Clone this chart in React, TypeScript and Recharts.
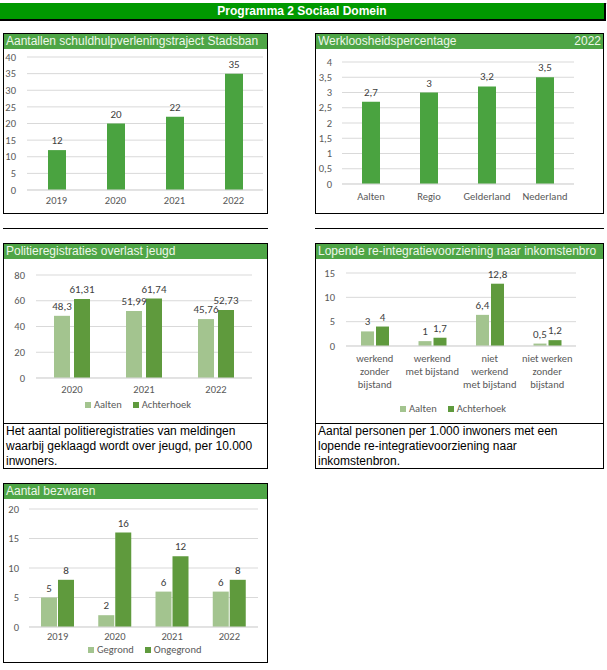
import React from 'react';
import { BarChart, Bar, XAxis, YAxis, CartesianGrid, LabelList } from 'recharts';

// schuldhulpverlening
const trajectYears = ['2019', '2020', '2021', '2022'];
const trajectCounts = [12, 20, 22, 35];
const trajectTicks = [0, 5, 10, 15, 20, 25, 30, 35, 40];

// werkloosheid 2022
const regions = ['Aalten', 'Regio', 'Gelderland', 'Nederland'];
const unemployment = [2.7, 3, 3.2, 3.5];
const unemploymentTicks = [0, 0.5, 1, 1.5, 2, 2.5, 3, 3.5, 4];

// politieregistraties overlast jeugd
const policeYears = ['2020', '2021', '2022'];
const policeAalten = [48.3, 51.99, 45.76];
const policeAchterhoek = [61.31, 61.74, 52.73];
const policeTicks = [0, 20, 40, 60, 80];

// re-integratievoorziening
const reintegrationGroups = [
  'werkend\nzonder\nbijstand',
  'werkend\nmet bijstand',
  'niet\nwerkend\nmet bijstand',
  'niet werken\nzonder\nbijstand',
];
const reintegrationAalten = [3, 1, 6.4, 0.5];
const reintegrationAchterhoek = [4, 1.7, 12.8, 1.2];
const reintegrationTicks = [0, 5, 10, 15];

// bezwaren
const objectionYears = ['2019', '2020', '2021', '2022'];
const objectionsGrounded = [5, 2, 6, 6];
const objectionsUngrounded = [8, 16, 12, 8];
const objectionTicks = [0, 5, 10, 15, 20];

const chartFont = "Carlito, Lato, 'Open Sans', sans-serif";
const boxFont = "'Liberation Sans', Arial, sans-serif";
const barGreen = '#4aa340';
const lightGreen = '#a3c48f';
const darkGreen = '#5f9a3d';
const titleGreen = '#4ea546';
const gridColor = '#d9d9d9';
const tickColor = '#595959';
const labelColor = '#404040';

const comma = (v: any) => String(v).replace('.', ',');

const tickStyle = { fill: tickColor, fontSize: 10.5, fontFamily: chartFont };

const MultiLineTick = (props: any) => {
  const { x, y, payload } = props;
  const lines = String(payload.value).split('\n');
  return (
    <text x={x} y={y} textAnchor="middle" fill={tickColor} fontSize={10.5} fontFamily={chartFont}>
      {lines.map((line, i) => (
        <tspan key={i} x={x} dy={i === 0 ? '0.71em' : 13}>
          {line}
        </tspan>
      ))}
    </text>
  );
};

function Box({ left, top, width, height, children }: any) {
  return (
    <div
      style={{
        position: 'absolute',
        left,
        top,
        width,
        height,
        border: '1px solid #000',
        boxSizing: 'border-box',
        overflow: 'hidden',
        background: '#fff',
      }}
    >
      {children}
    </div>
  );
}

function TitleBar({ text, right }: { text: string; right?: string }) {
  return (
    <div
      style={{
        height: 15,
        background: titleGreen,
        color: '#eef7ea',
        fontFamily: boxFont,
        fontSize: 12,
        lineHeight: '15px',
        paddingLeft: 2,
        paddingRight: 2,
        whiteSpace: 'nowrap',
        display: 'flex',
        justifyContent: 'space-between',
      }}
    >
      <span>{text}</span>
      {right && <span>{right}</span>}
    </div>
  );
}

function LegendRow({ left, top, items }: { left: number; top: number; items: { name: string; color: string }[] }) {
  return (
    <div
      style={{
        position: 'absolute',
        left,
        top,
        display: 'flex',
        alignItems: 'center',
        fontFamily: chartFont,
        fontSize: 10.5,
        color: tickColor,
        whiteSpace: 'nowrap',
      }}
    >
      {items.map((it) => (
        <div key={it.name} style={{ display: 'flex', alignItems: 'center', marginRight: 11 }}>
          <span style={{ width: 6, height: 6, background: it.color, marginRight: 3, display: 'inline-block' }} />
          <span>{it.name}</span>
        </div>
      ))}
    </div>
  );
}

function Separator({ left, width }: { left: number; width: number }) {
  return <div style={{ position: 'absolute', left, top: 228, width, height: 1, background: '#000' }} />;
}

export default function App() {
  const trajectData = trajectYears.map((year, i) => ({ year, value: trajectCounts[i] }));
  const unemploymentData = regions.map((region, i) => ({ region, value: unemployment[i] }));
  const policeData = policeYears.map((year, i) => ({
    year,
    Aalten: policeAalten[i],
    Achterhoek: policeAchterhoek[i],
  }));
  const reintegrationData = reintegrationGroups.map((group, i) => ({
    group,
    Aalten: reintegrationAalten[i],
    Achterhoek: reintegrationAchterhoek[i],
  }));
  const objectionData = objectionYears.map((year, i) => ({
    year,
    Gegrond: objectionsGrounded[i],
    Ongegrond: objectionsUngrounded[i],
  }));

  const label = { position: 'top' as const, offset: 6, fill: labelColor, fontSize: 11, fontFamily: chartFont };

  return (
    <div style={{ position: 'absolute', left: 0, top: 0, width: 607, height: 670, background: '#fff' }}>
      <div style={{ position: 'absolute', left: 0, top: 0, width: 607, height: 3, borderBottom: '1px solid #d4d4d4' }} />
      <div
        style={{
          position: 'absolute',
          left: 0,
          top: 3,
          width: 606,
          height: 18,
          background: '#009900',
          borderBottom: '2px solid #000',
          borderRight: '2px solid #000',
          boxSizing: 'border-box',
          color: '#fff',
          fontFamily: boxFont,
          fontWeight: 'bold',
          fontSize: 12,
          lineHeight: '16px',
          textAlign: 'center',
        }}
      >
        Programma 2 Sociaal Domein
      </div>

      {/* schuldhulpverlening */}
      <Box left={3} top={33} width={265} height={181}>
        <TitleBar text="Aantallen schuldhulpverleningstraject Stadsban" />
        <BarChart width={263} height={164} data={trajectData} margin={{ top: 8, right: 4, left: 0, bottom: 0 }}>
          <CartesianGrid vertical={false} stroke={gridColor} />
          <XAxis dataKey="year" axisLine={{ stroke: gridColor }} tickLine={false} tickSize={0} tickMargin={7} height={23} tick={tickStyle} />
          <YAxis width={23} domain={[0, 40]} ticks={trajectTicks} interval={0} axisLine={false} tickLine={false} tickSize={0} tickMargin={11} tick={tickStyle} />
          <Bar dataKey="value" fill={barGreen} barSize={18} isAnimationActive={false}>
            <LabelList dataKey="value" {...label} />
          </Bar>
        </BarChart>
      </Box>

      {/* werkloosheid */}
      <Box left={315} top={33} width={289} height={181}>
        <TitleBar text="Werkloosheidspercentage" right="2022" />
        <BarChart width={287} height={164} data={unemploymentData} margin={{ top: 13, right: 29, left: 0, bottom: 0 }}>
          <CartesianGrid vertical={false} stroke={gridColor} />
          <XAxis dataKey="region" axisLine={{ stroke: gridColor }} tickLine={false} tickSize={0} tickMargin={9} height={29} tick={tickStyle} />
          <YAxis width={26} domain={[0, 4]} ticks={unemploymentTicks} interval={0} tickFormatter={comma} axisLine={false} tickLine={false} tickSize={0} tickMargin={10} tick={tickStyle} />
          <Bar dataKey="value" fill={barGreen} barSize={18} isAnimationActive={false}>
            <LabelList dataKey="value" formatter={comma} {...label} />
          </Bar>
        </BarChart>
      </Box>

      <Separator left={3} width={265} />
      <Separator left={315} width={289} />

      {/* politieregistraties */}
      <Box left={3} top={243} width={265} height={181}>
        <TitleBar text="Politieregistraties overlast jeugd" />
        <BarChart width={263} height={164} data={policeData} barGap={4} margin={{ top: 16, right: 15, left: 0, bottom: 0 }}>
          <CartesianGrid vertical={false} stroke={gridColor} />
          <XAxis dataKey="year" axisLine={{ stroke: gridColor }} tickLine={false} tickSize={0} tickMargin={8} height={45} tick={tickStyle} />
          <YAxis width={32} domain={[0, 80]} ticks={policeTicks} interval={0} axisLine={false} tickLine={false} tickSize={0} tickMargin={11} tick={tickStyle} />
          <Bar dataKey="Aalten" fill={lightGreen} barSize={16} isAnimationActive={false}>
            <LabelList dataKey="Aalten" formatter={comma} {...label} />
          </Bar>
          <Bar dataKey="Achterhoek" fill={darkGreen} barSize={16} isAnimationActive={false}>
            <LabelList dataKey="Achterhoek" formatter={comma} {...label} />
          </Bar>
        </BarChart>
      </Box>
      <LegendRow
        left={85}
        top={398}
        items={[
          { name: 'Aalten', color: lightGreen },
          { name: 'Achterhoek', color: darkGreen },
        ]}
      />
      <Box left={3} top={423} width={265} height={46}>
        <div style={{ fontFamily: boxFont, fontSize: 12, lineHeight: '15px', color: '#000', padding: '0 2px' }}>
          Het aantal politieregistraties van meldingen
          <br />
          waarbij geklaagd wordt over jeugd, per 10.000
          <br />
          inwoners.
        </div>
      </Box>

      {/* re-integratie */}
      <Box left={315} top={243} width={289} height={181}>
        <TitleBar text="Lopende re-integratievoorziening naar inkomstenbro" />
        <BarChart width={287} height={164} data={reintegrationData} barGap={2} margin={{ top: 14, right: 27, left: 0, bottom: 0 }}>
          <CartesianGrid vertical={false} stroke={gridColor} />
          <XAxis dataKey="group" axisLine={{ stroke: gridColor }} tickLine={false} tickSize={0} tickMargin={9} height={77} interval={0} tick={<MultiLineTick />} />
          <YAxis width={30} domain={[0, 15]} ticks={reintegrationTicks} interval={0} axisLine={false} tickLine={false} tickSize={0} tickMargin={11} tick={tickStyle} />
          <Bar dataKey="Aalten" fill={lightGreen} barSize={13} isAnimationActive={false}>
            <LabelList dataKey="Aalten" formatter={comma} {...label} />
          </Bar>
          <Bar dataKey="Achterhoek" fill={darkGreen} barSize={13} isAnimationActive={false}>
            <LabelList dataKey="Achterhoek" formatter={comma} {...label} />
          </Bar>
        </BarChart>
      </Box>
      <LegendRow
        left={400}
        top={402}
        items={[
          { name: 'Aalten', color: lightGreen },
          { name: 'Achterhoek', color: darkGreen },
        ]}
      />
      <Box left={315} top={423} width={289} height={46}>
        <div style={{ fontFamily: boxFont, fontSize: 12, lineHeight: '15px', color: '#000', padding: '0 2px' }}>
          Aantal personen per 1.000 inwoners met een
          <br />
          lopende re-integratievoorziening naar
          <br />
          inkomstenbron.
        </div>
      </Box>

      {/* bezwaren */}
      <Box left={3} top={483} width={265} height={180}>
        <TitleBar text="Aantal bezwaren" />
        <BarChart width={263} height={163} data={objectionData} barGap={1} margin={{ top: 10, right: 9, left: 0, bottom: 0 }}>
          <CartesianGrid vertical={false} stroke={gridColor} />
          <XAxis dataKey="year" axisLine={{ stroke: gridColor }} tickLine={false} tickSize={0} tickMargin={6} height={35} tick={tickStyle} />
          <YAxis width={25} domain={[0, 20]} ticks={objectionTicks} interval={0} axisLine={false} tickLine={false} tickSize={0} tickMargin={10} tick={tickStyle} />
          <Bar dataKey="Gegrond" fill={lightGreen} barSize={16} isAnimationActive={false}>
            <LabelList dataKey="Gegrond" {...label} />
          </Bar>
          <Bar dataKey="Ongegrond" fill={darkGreen} barSize={16} isAnimationActive={false}>
            <LabelList dataKey="Ongegrond" {...label} />
          </Bar>
        </BarChart>
      </Box>
      <LegendRow
        left={88}
        top={643}
        items={[
          { name: 'Gegrond', color: lightGreen },
          { name: 'Ongegrond', color: darkGreen },
        ]}
      />
    </div>
  );
}
